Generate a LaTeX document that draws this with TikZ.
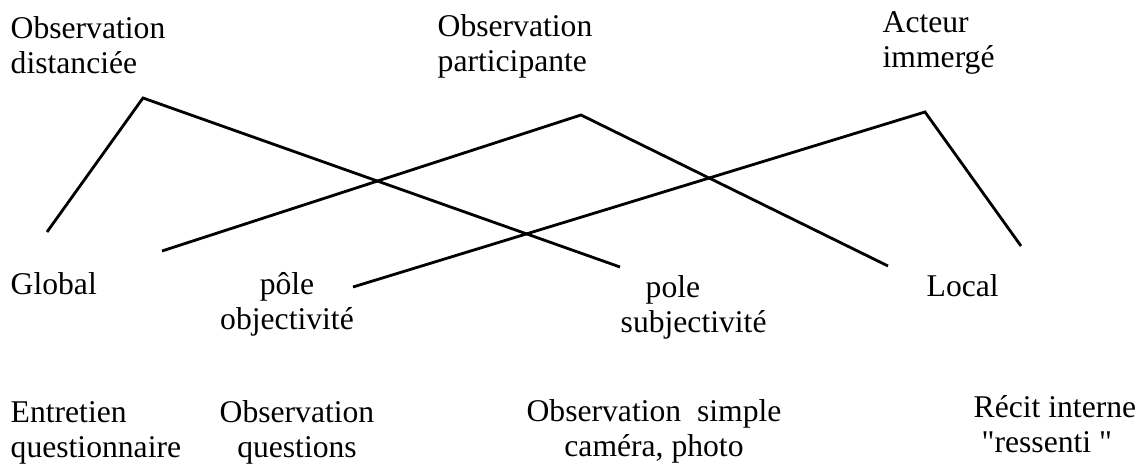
\documentclass[tikz,border=0pt]{standalone}
\usepackage{fontspec}
\setmainfont{Liberation Serif}[Ligatures=TeXOff]

\begin{document}
\begin{tikzpicture}[
	lbl/.style={inner sep=0pt, font=\fontsize{9pt}{10pt}\selectfont},
	trait/.style={line width=0.8pt}
	]
\useasboundingbox (0,0) rectangle (11.45,4.68);

% postures (haut)
\node [lbl, anchor=base west, align=left] (D) at (0.10, 3.94) {Observation\\distanciée};
\node [lbl, anchor=base west, align=left] (P) at (4.37, 3.96) {Observation\\participante};
\node [lbl, anchor=base west, align=left] (I) at (8.82, 4.00) {Acteur\\immergé};

% poles (milieu)
\node [lbl, anchor=base west] (G) at (0.10, 1.73) {Global};
\node [lbl, anchor=base, align=center] (O) at (2.87, 1.38) {pôle\\objectivité};
\node [lbl, anchor=base west, align=left] (S) at (6.20, 1.35) {\hspace*{0.25cm}pole\\subjectivité};
\node [lbl, anchor=base west] (L) at (9.26, 1.71) {Local};

% outils (bas)
\node [lbl, anchor=base west, align=left] (E) at (0.10, 0.10) {Entretien\\questionnaire};
\node [lbl, anchor=base, align=center] (Q) at (2.97, 0.10) {Observation\\questions};
\node [lbl, anchor=base, align=center] (C) at (6.54, 0.11) {Observation~~simple\\caméra, photo};
\node [lbl, anchor=base west, align=left] (R) at (9.73, 0.15) {Récit interne\\\hspace*{0.08cm}"ressenti "};

% sommets et extremites
\coordinate (a) at (1.43, 3.70);
\coordinate (a1) at (0.47, 2.36);
\coordinate (a2) at (6.20, 2.01);
\coordinate (b) at (5.81, 3.53);
\coordinate (b1) at (1.62, 2.17);
\coordinate (b2) at (8.88, 2.02);
\coordinate (c) at (9.25, 3.56);
\coordinate (c1) at (3.53, 1.81);
\coordinate (c2) at (10.21, 2.22);

\draw [trait] (a1) -- (a) -- (a2);
\draw [trait] (b1) -- (b) -- (b2);
\draw [trait] (c1) -- (c) -- (c2);

\end{tikzpicture}
\end{document}
